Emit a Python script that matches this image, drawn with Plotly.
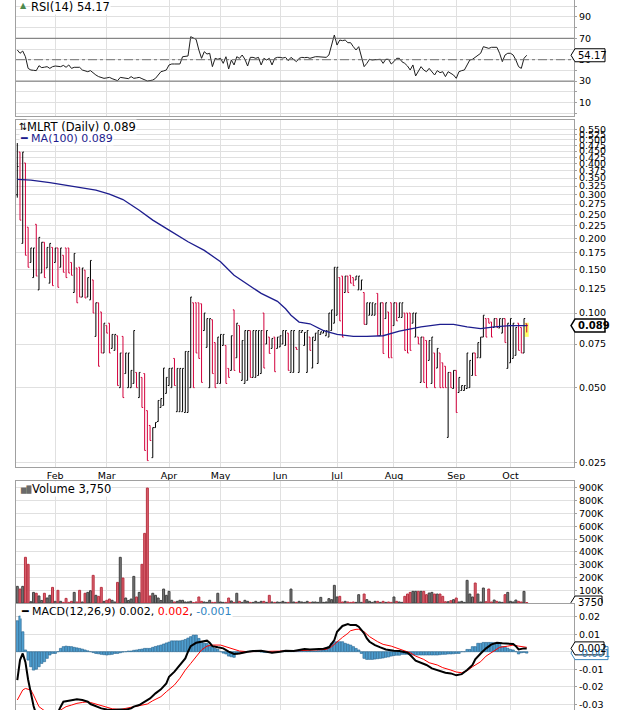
import math
import plotly.graph_objects as go

# ---------------- tick labels ----------------
months = ["Feb", "Mar", "Apr", "May", "Jun", "Jul", "Aug", "Sep", "Oct"]
month_idx = [14, 33, 56, 75, 97, 118, 139, 162, 182]
price_ticks = [0.025, 0.050, 0.075, 0.100, 0.125, 0.150, 0.175, 0.200, 0.225, 0.250, 0.275,
               0.300, 0.325, 0.350, 0.375, 0.400, 0.425, 0.450, 0.475, 0.500, 0.525, 0.550]
rsi_ticks = [0, 10, 20, 30, 40, 50, 60, 70, 80, 90, 100]
rsi_tick_labels = ["", "10", "", "30", "", "50", "", "70", "", "90", ""]
vol_ticks = [100, 200, 300, 400, 500, 600, 700, 800, 900]
vol_tick_labels = ["100K", "200K", "300K", "400K", "500K", "600K", "700K", "800K", "900K"]
macd_ticks = [-0.03, -0.02, -0.01, 0.0, 0.01, 0.02]
macd_tick_labels = ["-0.03", "-0.02", "-0.01", "0", "0.01", "0.02"]

# ---------------- daily OHLC (MLRT) ----------------
opens = [
    0.300, 0.446, 0.191, 0.403, 0.222, 0.160, 0.139, 0.228, 0.124, 0.145,
    0.193, 0.152, 0.132, 0.184, 0.160, 0.183, 0.153, 0.171, 0.183, 0.183,
    0.160, 0.121, 0.152, 0.153, 0.116, 0.149, 0.116, 0.113, 0.136, 0.0805,
    0.110, 0.101, 0.069, 0.089, 0.091, 0.072, 0.0707, 0.081, 0.050, 0.0805,
    0.057, 0.050, 0.050, 0.052, 0.0576, 0.0456, 0.055, 0.057, 0.0404, 0.0352,
    0.0261, 0.0345, 0.0365, 0.0416, 0.0424, 0.0474, 0.051, 0.050, 0.0656, 0.040,
    0.040, 0.040, 0.0397, 0.0397, 0.050, 0.110, 0.110, 0.110, 0.109, 0.085,
    0.0727, 0.050, 0.094, 0.076, 0.052, 0.052, 0.074, 0.074, 0.0598, 0.0587,
    0.103, 0.066, 0.089, 0.0535, 0.052, 0.0535, 0.085, 0.055, 0.055, 0.056,
    0.057, 0.100, 0.075, 0.080, 0.072, 0.080, 0.072, 0.073, 0.075, 0.074,
    0.083, 0.0576, 0.0576, 0.0727, 0.0576, 0.0835, 0.074, 0.0576, 0.080, 0.060,
    0.0775, 0.0626, 0.082, 0.083, 0.081, 0.080, 0.085, 0.091, 0.098, 0.139,
    0.141, 0.121, 0.141, 0.142, 0.139, 0.136, 0.124, 0.124, 0.121, 0.090,
    0.098, 0.098, 0.098, 0.120, 0.081, 0.110, 0.095, 0.101, 0.110, 0.089,
    0.110, 0.096, 0.096, 0.100, 0.100, 0.100, 0.091, 0.080, 0.080, 0.0525,
    0.080, 0.0775, 0.0644, 0.052, 0.069, 0.060, 0.069, 0.063, 0.061, 0.0315,
    0.0576, 0.0496, 0.0587, 0.0478, 0.0487, 0.0487, 0.0496, 0.050, 0.056, 0.069,
    0.066, 0.066, 0.080, 0.095, 0.095, 0.092, 0.0875, 0.095, 0.087, 0.083,
    0.095, 0.0598, 0.063, 0.0656, 0.0675, 0.091, 0.0875, 0.069, 0.0905,
]
highs = [
    0.485, 0.446, 0.446, 0.403, 0.222, 0.183, 0.183, 0.228, 0.202, 0.193,
    0.193, 0.184, 0.191, 0.184, 0.183, 0.183, 0.183, 0.171, 0.183, 0.183,
    0.160, 0.174, 0.152, 0.153, 0.152, 0.149, 0.139, 0.163, 0.136, 0.110,
    0.110, 0.101, 0.091, 0.089, 0.091, 0.082, 0.082, 0.081, 0.069, 0.0805,
    0.069, 0.069, 0.0587, 0.085, 0.0576, 0.0576, 0.055, 0.057, 0.0404, 0.0352,
    0.0345, 0.0362, 0.0444, 0.0452, 0.060, 0.055, 0.0598, 0.060, 0.0656, 0.0598,
    0.0598, 0.0598, 0.070, 0.070, 0.116, 0.110, 0.110, 0.110, 0.109, 0.100,
    0.095, 0.095, 0.094, 0.076, 0.080, 0.082, 0.082, 0.074, 0.0598, 0.081,
    0.103, 0.091, 0.089, 0.0775, 0.085, 0.085, 0.085, 0.085, 0.085, 0.085,
    0.085, 0.100, 0.085, 0.080, 0.079, 0.080, 0.080, 0.081, 0.085, 0.085,
    0.083, 0.085, 0.085, 0.0727, 0.085, 0.085, 0.0835, 0.085, 0.080, 0.080,
    0.083, 0.085, 0.084, 0.085, 0.085, 0.100, 0.103, 0.153, 0.153, 0.139,
    0.141, 0.141, 0.141, 0.142, 0.139, 0.141, 0.141, 0.136, 0.121, 0.110,
    0.110, 0.110, 0.109, 0.120, 0.110, 0.110, 0.110, 0.101, 0.110, 0.110,
    0.110, 0.110, 0.110, 0.100, 0.100, 0.100, 0.100, 0.100, 0.080, 0.080,
    0.080, 0.0775, 0.0775, 0.080, 0.069, 0.072, 0.069, 0.063, 0.061, 0.0576,
    0.0576, 0.0587, 0.0587, 0.055, 0.051, 0.051, 0.069, 0.0644, 0.069, 0.069,
    0.076, 0.080, 0.098, 0.095, 0.095, 0.092, 0.095, 0.095, 0.095, 0.095,
    0.095, 0.091, 0.095, 0.091, 0.0875, 0.091, 0.0875, 0.095, 0.0905,
]
lows = [
    0.292, 0.237, 0.191, 0.171, 0.153, 0.160, 0.139, 0.141, 0.124, 0.145,
    0.139, 0.152, 0.132, 0.129, 0.160, 0.127, 0.153, 0.146, 0.139, 0.145,
    0.142, 0.121, 0.110, 0.116, 0.116, 0.115, 0.116, 0.113, 0.100, 0.0805,
    0.061, 0.069, 0.069, 0.083, 0.069, 0.072, 0.0707, 0.051, 0.050, 0.0456,
    0.057, 0.050, 0.050, 0.052, 0.050, 0.0456, 0.0416, 0.0279, 0.0254, 0.0306,
    0.0261, 0.0345, 0.0365, 0.0416, 0.0424, 0.0474, 0.051, 0.050, 0.051, 0.040,
    0.040, 0.040, 0.0397, 0.0397, 0.050, 0.050, 0.069, 0.0656, 0.0525, 0.085,
    0.0727, 0.050, 0.057, 0.050, 0.052, 0.052, 0.074, 0.052, 0.055, 0.0587,
    0.0587, 0.066, 0.0576, 0.0535, 0.052, 0.0535, 0.055, 0.055, 0.055, 0.056,
    0.057, 0.060, 0.075, 0.0687, 0.072, 0.058, 0.072, 0.073, 0.075, 0.074,
    0.0587, 0.0576, 0.0576, 0.0713, 0.0576, 0.0835, 0.074, 0.0576, 0.0707, 0.060,
    0.0775, 0.0626, 0.082, 0.083, 0.081, 0.080, 0.085, 0.091, 0.098, 0.093,
    0.080, 0.121, 0.121, 0.132, 0.129, 0.136, 0.124, 0.124, 0.090, 0.090,
    0.098, 0.098, 0.098, 0.081, 0.081, 0.0687, 0.095, 0.066, 0.066, 0.089,
    0.093, 0.096, 0.096, 0.0707, 0.069, 0.0707, 0.091, 0.080, 0.075, 0.0525,
    0.0525, 0.050, 0.0644, 0.052, 0.050, 0.060, 0.050, 0.050, 0.050, 0.0315,
    0.050, 0.0496, 0.0397, 0.0478, 0.0487, 0.0487, 0.0496, 0.050, 0.056, 0.056,
    0.066, 0.066, 0.080, 0.080, 0.091, 0.080, 0.0875, 0.0875, 0.087, 0.083,
    0.076, 0.0598, 0.063, 0.0656, 0.0675, 0.0707, 0.069, 0.069, 0.0835,
]
closes = [
    0.390, 0.237, 0.446, 0.171, 0.153, 0.183, 0.183, 0.141, 0.202, 0.193,
    0.139, 0.184, 0.191, 0.129, 0.183, 0.127, 0.183, 0.146, 0.139, 0.145,
    0.142, 0.174, 0.110, 0.116, 0.152, 0.115, 0.139, 0.163, 0.100, 0.110,
    0.061, 0.069, 0.091, 0.083, 0.069, 0.082, 0.082, 0.051, 0.069, 0.0456,
    0.069, 0.069, 0.0587, 0.085, 0.050, 0.0576, 0.0416, 0.0279, 0.0254, 0.0306,
    0.0345, 0.0362, 0.0444, 0.0452, 0.060, 0.055, 0.0598, 0.060, 0.051, 0.0598,
    0.0598, 0.0598, 0.070, 0.070, 0.116, 0.050, 0.069, 0.0656, 0.0525, 0.100,
    0.095, 0.095, 0.057, 0.050, 0.080, 0.082, 0.082, 0.052, 0.055, 0.081,
    0.0587, 0.091, 0.0576, 0.0775, 0.085, 0.085, 0.055, 0.085, 0.085, 0.085,
    0.085, 0.060, 0.085, 0.0687, 0.079, 0.058, 0.080, 0.081, 0.085, 0.085,
    0.0587, 0.085, 0.085, 0.0713, 0.085, 0.085, 0.0835, 0.085, 0.0707, 0.080,
    0.083, 0.085, 0.084, 0.085, 0.085, 0.100, 0.103, 0.153, 0.153, 0.093,
    0.080, 0.141, 0.121, 0.132, 0.129, 0.141, 0.141, 0.136, 0.090, 0.110,
    0.110, 0.110, 0.109, 0.081, 0.110, 0.0687, 0.110, 0.066, 0.066, 0.110,
    0.093, 0.110, 0.110, 0.0707, 0.069, 0.0707, 0.100, 0.100, 0.075, 0.080,
    0.0525, 0.050, 0.0775, 0.080, 0.050, 0.072, 0.050, 0.050, 0.050, 0.0576,
    0.050, 0.0587, 0.0397, 0.055, 0.051, 0.051, 0.069, 0.0644, 0.069, 0.056,
    0.076, 0.080, 0.098, 0.080, 0.091, 0.080, 0.095, 0.0875, 0.095, 0.095,
    0.076, 0.091, 0.095, 0.091, 0.0875, 0.0707, 0.069, 0.095, 0.089,
]

# ---------------- moving average (100) ----------------
ma_idx = [0, 5, 12, 18, 24, 29, 34, 39, 45, 50, 56, 63, 69, 75, 80, 85, 90, 96, 99, 101,
          104, 108, 113, 118, 124, 129, 135, 141, 149, 156, 161, 166, 171, 176, 182, 188]
ma_val = [0.346, 0.344, 0.336, 0.328, 0.318, 0.313, 0.302, 0.287, 0.260, 0.237, 0.216,
          0.194, 0.179, 0.161, 0.142, 0.131, 0.120, 0.1115, 0.104, 0.098, 0.092, 0.0905,
          0.085, 0.082, 0.0805, 0.0805, 0.081, 0.0845, 0.088, 0.090, 0.090, 0.088, 0.0865,
          0.088, 0.089, 0.089]

# ---------------- volume (thousands of shares) ----------------
volume_k = [
    130, 109, 130, 357, 302, 10, 83, 76, 55, 20,
    76, 39, 60, 122, 13, 99, 13, 5, 36, 5,
    13, 83, 8, 99, 8, 76, 83, 96, 216, 60,
    52, 122, 13, 21, 31, 21, 8, 161, 357, 195,
    39, 20, 31, 208, 47, 83, 302, 544, 898, 55,
    76, 60, 39, 20, 109, 60, 91, 21, 8, 13,
    21, 21, 8, 8, 13, 3, 8, 47, 13, 8,
    5, 21, 5, 5, 76, 8, 5, 5, 39, 16,
    5, 76, 13, 5, 21, 13, 5, 5, 13, 5,
    13, 13, 5, 60, 8, 5, 8, 5, 13, 5,
    5, 109, 8, 5, 13, 8, 5, 13, 5, 8,
    8, 5, 44, 5, 8, 34, 26, 138, 47, 52,
    8, 13, 8, 5, 8, 5, 65, 5, 70, 26,
    13, 5, 13, 13, 5, 13, 5, 8, 5, 47,
    13, 8, 5, 52, 70, 83, 91, 91, 91, 91,
    91, 65, 78, 83, 70, 70, 70, 52, 10, 10,
    18, 26, 39, 8, 13, 5, 177, 70, 47, 156,
    70, 8, 117, 10, 109, 8, 23, 13, 8, 5,
    65, 83, 13, 8, 23, 13, 8, 91, 3.75,
]

# ---------------- RSI(14) ----------------
rsi = [
    59.1, 56.0, 58.1, 52.8, 41.9, 40.4, 40.1, 39.8, 44.4, 42.6,
    43.0, 43.5, 41.9, 43.5, 44.1, 43.8, 43.5, 44.7, 42.9, 45.1,
    41.9, 42.9, 42.9, 42.9, 40.4, 39.5, 38.8, 39.8, 37.5, 35.7,
    34.2, 33.5, 32.6, 33.0, 33.5, 32.3, 31.5, 30.4, 33.5, 33.3,
    33.2, 32.3, 34.2, 32.6, 33.0, 33.5, 32.3, 31.0, 30.1, 30.5,
    31.0, 32.6, 35.7, 38.8, 39.5, 40.4, 45.1, 46.0, 46.0, 46.0,
    46.0, 52.8, 53.5, 53.5, 71.5, 70.0, 69.0, 59.1, 51.3, 57.5,
    55.3, 56.0, 43.5, 51.3, 50.4, 51.3, 46.6, 52.8, 41.3, 49.7,
    45.1, 52.8, 51.3, 54.4, 50.4, 44.1, 52.2, 52.2, 51.3, 52.2,
    45.1, 51.3, 49.7, 51.3, 45.1, 51.3, 52.2, 52.2, 51.6, 52.2,
    49.1, 52.2, 50.4, 48.2, 51.3, 52.2, 51.9, 52.2, 51.3, 52.2,
    52.8, 52.8, 52.8, 52.2, 52.2, 54.4, 63.7, 73.1, 63.7, 68.4,
    67.8, 68.4, 65.9, 65.9, 62.2, 59.1, 62.2, 51.3, 43.5, 46.6,
    50.4, 49.7, 50.0, 50.4, 50.4, 46.6, 50.4, 50.4, 46.0, 48.2,
    51.3, 51.3, 48.0, 46.6, 44.1, 40.4, 45.1, 34.8, 39.8, 43.5,
    40.4, 38.8, 41.9, 38.8, 35.7, 39.8, 37.9, 38.8, 34.2, 38.8,
    37.3, 35.7, 32.6, 38.8, 39.8, 40.4, 45.1, 49.7, 50.4, 52.2,
    54.4, 56.0, 62.2, 61.3, 60.6, 61.6, 61.6, 61.6, 56.0, 48.2,
    54.4, 56.0, 56.0, 54.4, 49.7, 43.5, 41.9, 51.3, 54.17,
]

# ---------------- MACD(12,26,9) ----------------
macd_idx = [0, 1, 2, 3, 4, 5, 6, 7, 9, 12, 14, 16, 17, 19, 20, 22, 24, 26, 27, 29,
            31, 33, 35, 38, 40, 42, 43, 45, 47, 49, 51, 53, 55, 56, 58, 60, 62, 63, 64, 66,
            68, 70, 71, 72, 74, 76, 78, 80, 82, 83, 85, 87, 90, 92, 94, 97, 99, 102, 104, 106,
            108, 110, 113, 115, 116, 117, 118, 119, 120, 122, 123, 125, 126, 128, 129, 130, 132, 134, 136, 139,
            141, 144, 145, 147, 149, 151, 153, 156, 158, 160, 162, 164, 166, 168, 169, 171, 173, 175, 177, 179,
            181, 183, 184, 185, 187, 188]
macd_val = [-0.0162, -0.0048, -0.0010, -0.0060, -0.0160, -0.0240, -0.0310, -0.0360, -0.0400, -0.0410,
            -0.0380, -0.0314, -0.0286, -0.0280, -0.0276, -0.0272, -0.0276, -0.0286, -0.0299, -0.0310,
            -0.0324, -0.0330, -0.0333, -0.0330, -0.0331, -0.0324, -0.0314, -0.0305, -0.0286, -0.0267,
            -0.0238, -0.0215, -0.0181, -0.0143, -0.0114, -0.0076, -0.0038, 0.0000, 0.0032, 0.0051,
            0.0057, 0.0063, 0.0051, 0.0032, 0.0025, 0.0019, 0.0000, -0.0013, -0.0010, -0.0006,
            0.0000, 0.0004, 0.0006, 0.0000, -0.0006, 0.0000, 0.0006, 0.0004, 0.0010, 0.0015,
            0.0013, 0.0015, 0.0017, 0.0025, 0.0048, 0.0067, 0.0114, 0.0133, 0.0147, 0.0158,
            0.0152, 0.0152, 0.0143, 0.0105, 0.0076, 0.0057, 0.0038, 0.0025, 0.0013, 0.0006,
            0.0004, -0.0006, -0.0019, -0.0051, -0.0063, -0.0076, -0.0095, -0.0109, -0.0120, -0.0124,
            -0.0135, -0.0128, -0.0105, -0.0076, -0.0044, -0.0010, 0.0019, 0.0042, 0.0051, 0.0048,
            0.0048, 0.0044, 0.0032, 0.0013, 0.0019, 0.0019]
signal_idx = [0, 1, 2, 3, 5, 6, 7, 8, 10, 13, 16, 18, 20, 22, 24, 26, 27, 29, 31, 33,
              35, 38, 40, 43, 45, 48, 50, 53, 55, 58, 60, 62, 64, 66, 68, 70, 72, 75, 77, 80,
              82, 85, 88, 92, 96, 99, 104, 108, 112, 114, 116, 118, 120, 122, 123, 125, 126, 128, 130, 133,
              135, 138, 140, 142, 145, 147, 150, 152, 155, 157, 160, 162, 164, 166, 168, 171, 173, 176, 178, 181,
              183, 185, 188]
signal_val = [-0.0276, -0.0248, -0.0219, -0.0210, -0.0219, -0.0248, -0.0286, -0.0314, -0.0337, -0.0355,
              -0.0333, -0.0314, -0.0305, -0.0295, -0.0290, -0.0286, -0.0290, -0.0299, -0.0310, -0.0318,
              -0.0326, -0.0330, -0.0324, -0.0318, -0.0310, -0.0299, -0.0280, -0.0257, -0.0229, -0.0190,
              -0.0152, -0.0105, -0.0067, -0.0025, 0.0010, 0.0032, 0.0038, 0.0038, 0.0029, 0.0013,
              0.0004, 0.0000, 0.0000, 0.0000, 0.0000, 0.0004, 0.0006, 0.0010, 0.0010, 0.0013,
              0.0029, 0.0057, 0.0082, 0.0105, 0.0120, 0.0128, 0.0128, 0.0114, 0.0086, 0.0057,
              0.0042, 0.0032, 0.0023, 0.0010, -0.0006, -0.0025, -0.0044, -0.0063, -0.0076, -0.0091,
              -0.0105, -0.0116, -0.0120, -0.0109, -0.0086, -0.0057, -0.0025, 0.0006, 0.0025, 0.0032,
              0.0038, 0.0032, 0.0025]
hist = [
    0.0177, 0.0204, 0.0114, 0.0010, -0.0048, -0.0086, -0.0105, -0.0100, -0.0086, -0.0067,
    -0.0057, -0.0038, -0.0019, -0.0010, -0.0010, 0.0000, 0.0019, 0.0029, 0.0032, 0.0030,
    0.0029, 0.0025, 0.0022, 0.0019, 0.0015, 0.0010, 0.0005, 0.0000, -0.0005, -0.0010,
    -0.0012, -0.0015, -0.0017, -0.0019, -0.0017, -0.0015, -0.0010, -0.0010, -0.0006, -0.0002,
    0.0000, 0.0004, 0.0004, 0.0008, 0.0010, 0.0013, 0.0015, 0.0019, 0.0019, 0.0019,
    0.0025, 0.0030, 0.0034, 0.0038, 0.0044, 0.0050, 0.0055, 0.0062, 0.0062, 0.0062,
    0.0062, 0.0065, 0.0070, 0.0078, 0.0086, 0.0095, 0.0095, 0.0076, 0.0057, 0.0048,
    0.0048, 0.0038, 0.0029, 0.0019, 0.0014, 0.0000, -0.0008, -0.0013, -0.0025, -0.0029,
    -0.0032, -0.0013, -0.0008, -0.0006, -0.0003, 0.0000, 0.0003, 0.0004, 0.0003, 0.0002,
    -0.0002, -0.0004, -0.0005, -0.0004, -0.0006, -0.0003, 0.0000, 0.0002, 0.0003, 0.0004,
    0.0002, 0.0004, 0.0003, 0.0002, 0.0004, 0.0006, 0.0005, 0.0004, 0.0003, 0.0003,
    0.0004, 0.0006, 0.0008, 0.0010, 0.0019, 0.0029, 0.0048, 0.0057, 0.0057, 0.0057,
    0.0057, 0.0048, 0.0043, 0.0038, 0.0029, 0.0019, 0.0010, -0.0010, -0.0038, -0.0044,
    -0.0044, -0.0044, -0.0042, -0.0040, -0.0038, -0.0036, -0.0032, -0.0030, -0.0025, -0.0022,
    -0.0020, -0.0020, -0.0015, -0.0015, -0.0015, -0.0017, -0.0019, -0.0019, -0.0019, -0.0019,
    -0.0019, -0.0019, -0.0019, -0.0019, -0.0019, -0.0019, -0.0017, -0.0015, -0.0015, -0.0013,
    -0.0013, -0.0012, -0.0010, -0.0010, 0.0000, 0.0000, 0.0013, 0.0013, 0.0029, 0.0029,
    0.0048, 0.0048, 0.0053, 0.0053, 0.0053, 0.0053, 0.0051, 0.0048, 0.0048, 0.0030,
    0.0029, 0.0020, 0.0013, 0.0010, 0.0000, -0.0013, -0.0006, -0.0004, -0.0008,
]

# ---------------- layout geometry ----------------
W, H = 620, 710
ML, MR = 16, 46
PW = W - ML - MR
FONT = "DejaVu Sans"
GRID = "#e0e0e0"
BORDER = "#a0a0a0"
RED = "#d3003c"
XR = [-0.48, 205.45]


def dom(top_px, bot_px):
    return [1 - bot_px / H, 1 - top_px / H]


def px(xp):
    return (xp - ML) / PW


def py(yp):
    return 1 - yp / H


n = len(closes)
idx = list(range(n))

fig = go.Figure()

# RSI
fig.add_trace(go.Scatter(x=list(range(len(rsi))), y=rsi, mode="lines",
                         line=dict(color="#1e1e1e", width=1), xaxis="x", yaxis="y",
                         hoverinfo="skip"))
# price bars
fig.add_trace(go.Ohlc(x=idx, open=opens, high=highs, low=lows, close=closes,
                      increasing=dict(line=dict(color="#000000", width=1)),
                      decreasing=dict(line=dict(color=RED, width=1)),
                      tickwidth=0.45, xaxis="x2", yaxis="y2", hoverinfo="skip"))
fig.add_trace(go.Scatter(x=ma_idx, y=ma_val, mode="lines",
                         line=dict(color="#1d1d8e", width=1.3), xaxis="x2", yaxis="y2",
                         hoverinfo="skip"))
# volume
up = [c >= o for o, c in zip(opens, closes)]
vfill = ["#7e7e7e" if u else "#d9646f" for u in up]
vline = ["#3f3f3f" if u else "#b93040" for u in up]
fig.add_trace(go.Bar(x=list(range(len(volume_k))), y=volume_k,
                     marker=dict(color=vfill, line=dict(color=vline, width=1)),
                     width=0.72, xaxis="x3", yaxis="y3", hoverinfo="skip"))
# MACD
fig.add_trace(go.Bar(x=list(range(len(hist))), y=hist,
                     marker=dict(color="#4f9fd0", line=dict(color="#24618d", width=0.6)),
                     width=0.9, xaxis="x4", yaxis="y4", hoverinfo="skip"))
fig.add_trace(go.Scatter(x=signal_idx, y=signal_val, mode="lines",
                         line=dict(color="#ff0000", width=1), xaxis="x4", yaxis="y4",
                         hoverinfo="skip"))
fig.add_trace(go.Scatter(x=macd_idx, y=macd_val, mode="lines",
                         line=dict(color="#000000", width=2), xaxis="x4", yaxis="y4",
                         hoverinfo="skip"))

tickfont = dict(family=FONT, size=9.5, color="#000")


def xax(anchor, labels=False, line=False, mirror=False):
    d = dict(anchor=anchor, range=XR, tickvals=month_idx, ticktext=months,
             showgrid=True, gridcolor=GRID, gridwidth=1, zeroline=False,
             showticklabels=labels, ticks="", tickfont=tickfont, fixedrange=True,
             showline=line, linecolor=BORDER, linewidth=1, mirror=mirror)
    return d


def yax(anchor, domain, rng, tv, tt, typ="linear"):
    return dict(anchor=anchor, domain=domain, range=rng, type=typ, side="right",
                tickvals=tv, ticktext=tt, showgrid=True, gridcolor=GRID, gridwidth=1,
                zeroline=False, tickfont=tickfont, ticks="outside", ticklen=2,
                tickcolor=BORDER, showline=True, linecolor=BORDER, linewidth=1,
                mirror=True, fixedrange=True)


price_lo, price_hi = math.log10(0.02393), math.log10(0.6008)

fig.update_layout(
    width=W, height=H, margin=dict(l=ML, r=MR, t=0, b=0),
    paper_bgcolor="white", plot_bgcolor="white", showlegend=False,
    font=dict(family=FONT, size=11, color="#000"),
    xaxis=xax("y", line=True),
    xaxis2=xax("y2", labels=True, line=True, mirror=True),
    xaxis3=xax("y3", line=True, mirror=True),
    xaxis4=xax("y4", line=True, mirror=True),
    yaxis=yax("x", dom(0, 116), [-2.6, 105.8], rsi_ticks, rsi_tick_labels),
    yaxis2=yax("x2", dom(120, 467), [price_lo, price_hi], price_ticks,
               ["%.3f" % v for v in price_ticks], typ="log"),
    yaxis3=yax("x3", dom(481, 603), [0, 953.1], vol_ticks, vol_tick_labels),
    yaxis4=yax("x4", dom(604, 710), [-0.03331, 0.02726], macd_ticks, macd_tick_labels),
)
fig.update_xaxes(rangeslider=dict(visible=False))

shapes = []
# RSI reference lines
for lvl in (70, 30):
    shapes.append(dict(type="line", xref="x domain", yref="y", x0=0, x1=1, y0=lvl, y1=lvl,
                       line=dict(color="#707070", width=1)))
shapes.append(dict(type="line", xref="x domain", yref="y", x0=0, x1=1, y0=50, y1=50,
                   line=dict(color="#707070", width=1, dash="dashdot")))
# highlight of the latest bar
shapes.append(dict(type="rect", xref="x2", yref="y2", x0=idx[-1] - 0.75, x1=idx[-1] + 0.75,
                   y0=lows[-1] * 0.96, y1=highs[-1] * 1.01, fillcolor="#ffff66",
                   line=dict(width=0), layer="below"))


def tag(yref, yval, width, color="#000", lw=1):
    return dict(type="path", xref="paper", yref=yref, xsizemode="pixel", ysizemode="pixel",
                xanchor=1, yanchor=yval,
                path="M -3,0 L 1,6.5 L %d,6.5 L %d,-6.5 L 1,-6.5 Z" % (width, width),
                fillcolor="white", line=dict(color=color, width=lw))


shapes.append(tag("y", rsi[-1], 31))
shapes.append(tag("y2", closes[-1], 31, lw=1.5))
shapes.append(tag("y3", volume_k[-1], 28))
shapes.append(tag("y4", hist[-1], 34, color="#3a86bd"))
shapes.append(tag("y4", macd_val[-1], 30))
fig.update_layout(shapes=shapes)

ann = []


def label(xp, yp, text, size=11.5, color="#000", bg=None):
    d = dict(xref="paper", yref="paper", x=px(xp), y=py(yp), xanchor="left", yanchor="middle",
             text=text, showarrow=False, font=dict(family=FONT, size=size, color=color),
             borderpad=0)
    if bg:
        d["bgcolor"] = bg
    return d


ann.append(label(19, 6, "▲", size=8, color="#4d8a4d"))
ann.append(label(30, 7, "RSI(14) %.2f" % rsi[-1], bg="white"))
ann.append(label(18, 127, "⇅", size=10))
ann.append(label(26, 127, "MLRT (Daily) %.3f" % closes[-1], bg="white"))
ann.append(label(19, 139, "━ MA(100) %.3f" % ma_val[-1], size=11, color="#1d1d8e", bg="white"))
ann.append(label(19, 489, "▆█", size=7, color="#6a6a6a"))
ann.append(label(31, 489, "Volume {:,}".format(int(round(volume_k[-1] * 1000))), bg="white"))
ann.append(label(20, 611,
                 "━ MACD(12,26,9) %.3f, <span style='color:#ff0000'>%.3f</span>, "
                 "<span style='color:#2f86c2'>%.3f</span>" % (macd_val[-1], signal_val[-1] - 0.0005,
                                                              hist[-1]),
                 size=11, bg="white"))


def tag_text(yref, yval, text, color="#000", bold=False):
    return dict(xref="paper", yref=yref, x=1, y=yval, xanchor="left", yanchor="middle",
                xshift=2, text=("<b>%s</b>" % text) if bold else text, showarrow=False,
                font=dict(family=FONT, size=10, color=color))


ann.append(tag_text("y", rsi[-1], "%.2f" % rsi[-1]))
ann.append(tag_text("y2", math.log10(closes[-1]), "%.3f" % closes[-1], bold=True))
ann.append(tag_text("y3", volume_k[-1], "%d" % int(round(volume_k[-1] * 1000))))
ann.append(tag_text("y4", hist[-1], "%.3f" % hist[-1], color="#2f86c2"))
ann.append(tag_text("y4", macd_val[-1], "%.3f" % macd_val[-1]))
fig.update_layout(annotations=ann)

fig.write_html("out.html", config={"displayModeBar": False},
               post_script="document.body.style.margin='0px';"
                           "document.body.style.padding='0px';"
                           "document.documentElement.style.overflow='hidden';")
